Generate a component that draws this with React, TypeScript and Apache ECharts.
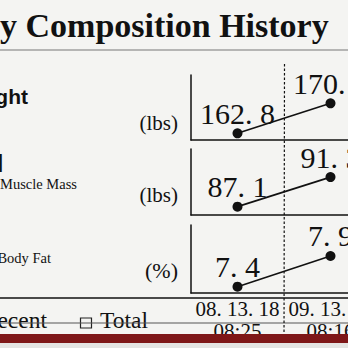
import React, { useEffect, useRef } from "react";
import * as echarts from "echarts";

const dates = ["08. 13. 18", "09. 13. 18"];
const times = ["08:25", "08:16"];
const weight = [162.8, 170.2];
const smm = [87.1, 91.3];
const pbf = [7.4, 7.9];
const yMin = [161.15, 85.91, 7.297];
const yMax = [177.2, 95.3, 8.405];
const units = ["(lbs)", "(lbs)", "(%)"];

const fmt = (v: number) => {
  const s = v.toFixed(1).split(".");
  return `${s[0]}. ${s[1]}`;
};

export default function App() {
  const ref = useRef<HTMLDivElement>(null);
  useEffect(() => {
    document.body.style.margin = "0";
    const chart = echarts.init(ref.current!, null, { renderer: "svg" });
    const grids = [
      { left: 191, top: 75, width: 186, height: 65, outerBoundsMode: "none", containLabel: false },
      { left: 191, top: 149, width: 186, height: 66, outerBoundsMode: "none", containLabel: false },
      { left: 191, top: 225, width: 186, height: 68, outerBoundsMode: "none", containLabel: false },
    ];
    const serif = "Liberation Serif";
    const axisLine = { show: true, lineStyle: { color: "#111", width: 1.5 } };
    const seriesData = [weight, smm, pbf];
    const text = (t: string, x: number, y: number, font: string, align = "left", z = 10) => ({
      type: "text",
      z,
      style: { text: t, x, y, font, fill: "#111", align, verticalAlign: "middle" },
    });
    chart.setOption({
      animation: false,
      backgroundColor: "#f4f4f2",
      grid: grids,
      xAxis: grids.map((_, i) => ({
        type: "category",
        gridIndex: i,
        data: dates,
        boundaryGap: true,
        axisLine,
        axisTick: { show: false },
        splitLine: { show: false },
        axisLabel:
          i === 2
            ? {
                show: true,
                interval: 0,
                margin: 5,
                fontFamily: serif,
                fontSize: 21,
                lineHeight: 22,
                color: "#111",
                formatter: (v: string, idx: number) => `${v}\n${times[idx]}`,
              }
            : { show: false },
      })),
      yAxis: grids.map((_, i) => ({
        type: "value",
        gridIndex: i,
        min: yMin[i],
        max: yMax[i],
        axisLine,
        axisTick: { show: false },
        axisLabel: { show: false },
        splitLine: { show: false },
      })),
      series: seriesData.map((d, i) => ({
        type: "line",
        xAxisIndex: i,
        yAxisIndex: i,
        data: d,
        symbol: "circle",
        symbolSize: 10,
        lineStyle: { color: "#111", width: 1.6 },
        itemStyle: { color: "#111" },
        label: {
          show: true,
          position: "top",
          distance: 0,
          fontFamily: serif,
          fontSize: 30,
          color: "#111",
          formatter: (p: any) => fmt(p.value),
        },
      })),
      graphic: [
        text("y Composition History", 0, 25, `bold 34px ${serif}`),
        { type: "line", z: 10, shape: { x1: 0, y1: 50, x2: 348, y2: 50 }, style: { stroke: "#777", lineWidth: 1 } },
        text("ght", 28, 96.5, "bold 21px Liberation Sans", "right"),
        text("l", 3.5, 163, "bold 24px Liberation Sans", "right"),
        text("Muscle Mass", 77, 183.5, `14.5px ${serif}`, "right"),
        text("Body Fat", 51, 257.5, `14.5px ${serif}`, "right"),
        text(units[0], 178, 123, `21px ${serif}`, "right"),
        text(units[1], 178, 195, `21px ${serif}`, "right"),
        text(units[2], 178, 270, `22px ${serif}`, "right"),
        { type: "line", z: 10, shape: { x1: 0, y1: 298, x2: 348, y2: 298 }, style: { stroke: "#111", lineWidth: 1.5 } },
        text("ecent", 47, 320, `23.5px ${serif}`, "right"),
        { type: "rect", z: 10, shape: { x: 80.5, y: 318, width: 11, height: 10 }, style: { fill: "none", stroke: "#222", lineWidth: 1.2 } },
        text("Total", 100, 320, `23.5px ${serif}`),
        { type: "line", z: 11, shape: { x1: 0, y1: 323, x2: 348, y2: 323 }, style: { stroke: "#555", lineWidth: 1 } },
        { type: "line", z: 11, shape: { x1: 284.5, y1: 64, x2: 284, y2: 343 }, style: { stroke: "#111", lineWidth: 1.2, lineDash: [2.5, 2] } },
        { type: "rect", z: 20, shape: { x: 0, y: 334, width: 348, height: 9 }, style: { fill: "#7e1718" } },
        { type: "rect", z: 20, shape: { x: 0, y: 343, width: 348, height: 5 }, style: { fill: "#e4e4e2" } },
      ],
    });
    return () => chart.dispose();
  }, []);
  return <div ref={ref} style={{ position: "fixed", left: 0, top: 0, width: 348, height: 348 }} />;
}
